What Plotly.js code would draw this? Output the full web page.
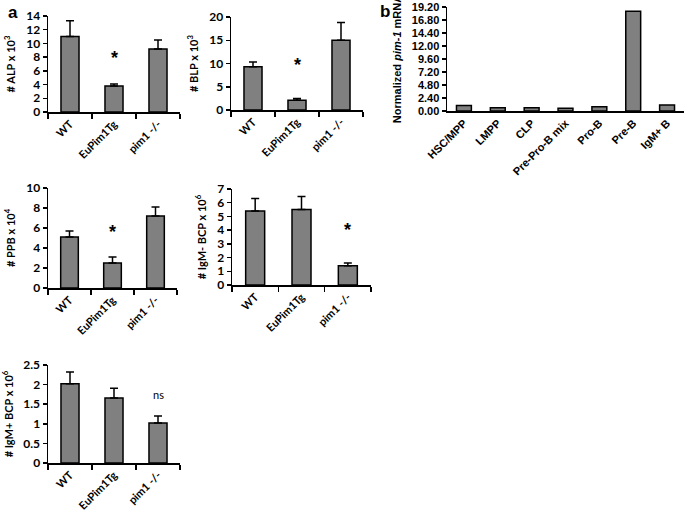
<!DOCTYPE html>
<html>
<head>
<meta charset="utf-8">
<script src="https://cdn.plot.ly/plotly-3.0.1.min.js"></script>
<style>html,body{margin:0;padding:0;background:#fff;}#chart{width:685px;height:511px;}</style>
</head>
<body>
<div id="chart"></div>
<script>
// Panel a categories
const groups = ["WT", "EuPim1Tg", "pim1 -/-"];
// ALP x10^3
const alpMean = [11.0, 3.8, 9.2];
const alpErr = [2.3, 0.3, 1.3];
// BLP x10^3
const blpMean = [9.3, 2.1, 15.0];
const blpErr = [1.0, 0.4, 3.8];
// PPB x10^4
const ppbMean = [5.1, 2.5, 7.2];
const ppbErr = [0.6, 0.6, 0.9];
// IgM- BCP x10^6
const igmNegMean = [5.4, 5.5, 1.4];
const igmNegErr = [0.9, 0.95, 0.2];
// IgM+ BCP x10^6
const igmPosMean = [2.02, 1.66, 1.02];
const igmPosErr = [0.3, 0.25, 0.18];
// Panel b
const cellTypes = ["HSC/MPP", "LMPP", "CLP", "Pre-Pro-B mix", "Pro-B", "Pre-B", "IgM+ B"];
const pimMrna = [1.0, 0.6, 0.6, 0.5, 0.8, 18.4, 1.1];
const pimTicks = [0, 2.4, 4.8, 7.2, 9.6, 12.0, 14.4, 16.8, 19.2];

const W = 685, H = 511;
const fx = p => p / W;
const fy = p => 1 - p / H;

const barColor = "#808080";
const fontA = "Lato, 'Open Sans', sans-serif";
const fontB = "'Liberation Sans', Arial, sans-serif";

function barTrace(x, y, err, xa, ya, width) {
  const t = {
    type: "bar", x: x, y: y, xaxis: xa, yaxis: ya,
    width: width,
    marker: {color: barColor, line: {color: "#000", width: 1.5}},
    showlegend: false, hoverinfo: "none"
  };
  if (err) {
    t.error_y = {type: "data", symmetric: false, array: err,
      arrayminus: err.map(() => 0), color: "#000", thickness: 1.5, width: 4};
  }
  return t;
}

const data = [
  barTrace(groups, alpMean, alpErr, "x", "y", 0.41),
  barTrace(groups, blpMean, blpErr, "x2", "y2", 0.41),
  barTrace(cellTypes, pimMrna, null, "x3", "y3", 0.44),
  barTrace(groups, ppbMean, ppbErr, "x4", "y4", 0.41),
  barTrace(groups, igmNegMean, igmNegErr, "x5", "y5", 0.41),
  barTrace(groups, igmPosMean, igmPosErr, "x6", "y6", 0.41)
];

function xAxis(dom, anchor, font) {
  return {domain: dom, anchor: anchor, type: "category",
    showline: true, linecolor: "#000", linewidth: 1.5, mirror: false,
    ticks: "outside", tickson: "boundaries", ticklen: 5, tickcolor: "#000", tickwidth: 1.5,
    tickangle: -45, showgrid: false, zeroline: false,
    tickfont: {family: font, size: 11, color: "#000", weight: "bold"}};
}
function yAxis(dom, anchor, range, dtick, title, font, extra) {
  const a = {domain: dom, anchor: anchor, range: range, dtick: dtick,
    showline: true, linecolor: "#000", linewidth: 1.5,
    ticks: "outside", ticklen: 4, tickcolor: "#000", tickwidth: 1.5,
    showgrid: false, zeroline: false,
    tickfont: {family: font, size: 12, color: "#000", weight: "bold"},
    title: {text: title, font: {family: font, size: 11, color: "#000", weight: "bold"}, standoff: 8}};
  return Object.assign(a, extra || {});
}

const layout = {
  width: W, height: H,
  margin: {l: 0, r: 0, t: 0, b: 0},
  paper_bgcolor: "#fff", plot_bgcolor: "rgba(0,0,0,0)",
  bargap: 0.5,
  xaxis: xAxis([fx(48), fx(180)], "y", fontA),
  yaxis: yAxis([fy(112), fy(16)], "x", [0, 14], 2, "# ALP x 10<sup>3</sup>", fontA),
  xaxis2: xAxis([fx(231), fx(363)], "y2", fontA),
  yaxis2: yAxis([fy(110), fy(17)], "x2", [0, 20], 5, "# BLP x 10<sup>3</sup>", fontA),
  xaxis3: Object.assign(xAxis([fx(447), fx(684)], "y3", fontB), {tickson: undefined, ticks: "", tickfont: {family: fontB, size: 11, color: "#000", weight: "bold"}}),
  yaxis3: yAxis([fy(111), fy(7)], "x3", [0, 19.2], null, "Normalized <i>pim-1</i> mRNA", fontB,
    {tickmode: "array", tickvals: pimTicks, ticktext: pimTicks.map(v => v.toFixed(2)),
     tickfont: {family: fontB, size: 11, color: "#000", weight: "bold"}}),
  xaxis4: xAxis([fx(48), fx(177)], "y4", fontA),
  yaxis4: yAxis([fy(288), fy(188)], "x4", [0, 10], 2, "# PPB x 10<sup>4</sup>", fontA),
  xaxis5: xAxis([fx(232), fx(371)], "y5", fontA),
  yaxis5: yAxis([fy(285), fy(189)], "x5", [0, 7], 1, "# IgM- BCP x 10<sup>6</sup>", fontA),
  xaxis6: xAxis([fx(48), fx(180)], "y6", fontA),
  yaxis6: yAxis([fy(463), fy(365)], "x6", [0, 2.5], 0.5, "# IgM+ BCP x 10<sup>6</sup>", fontA),
  annotations: [
    {text: "<b>a</b>", xref: "paper", yref: "paper", x: fx(6), y: fy(1), xanchor: "left", yanchor: "top", showarrow: false, font: {family: fontB, size: 17, color: "#000"}},
    {text: "<b>b</b>", xref: "paper", yref: "paper", x: fx(378), y: fy(0), xanchor: "left", yanchor: "top", showarrow: false, font: {family: fontB, size: 17, color: "#000"}},
    {text: "<b>*</b>", xref: "x", yref: "y", x: groups[1], y: 7.9, showarrow: false, font: {family: fontB, size: 18, color: "#000"}},
    {text: "<b>*</b>", xref: "x2", yref: "y2", x: groups[1], y: 9.7, showarrow: false, font: {family: fontB, size: 18, color: "#000"}},
    {text: "<b>*</b>", xref: "x4", yref: "y4", x: groups[1], y: 5.6, showarrow: false, font: {family: fontB, size: 18, color: "#000"}},
    {text: "<b>*</b>", xref: "x5", yref: "y5", x: groups[2], y: 4.0, showarrow: false, font: {family: fontB, size: 18, color: "#000"}},
    {text: "ns", xref: "x6", yref: "y6", x: groups[2], y: 1.76, showarrow: false, font: {family: fontA, size: 11, color: "#000"}}
  ]
};

Plotly.newPlot("chart", data, layout, {staticPlot: true, displayModeBar: false});
</script>
</body>
</html>
